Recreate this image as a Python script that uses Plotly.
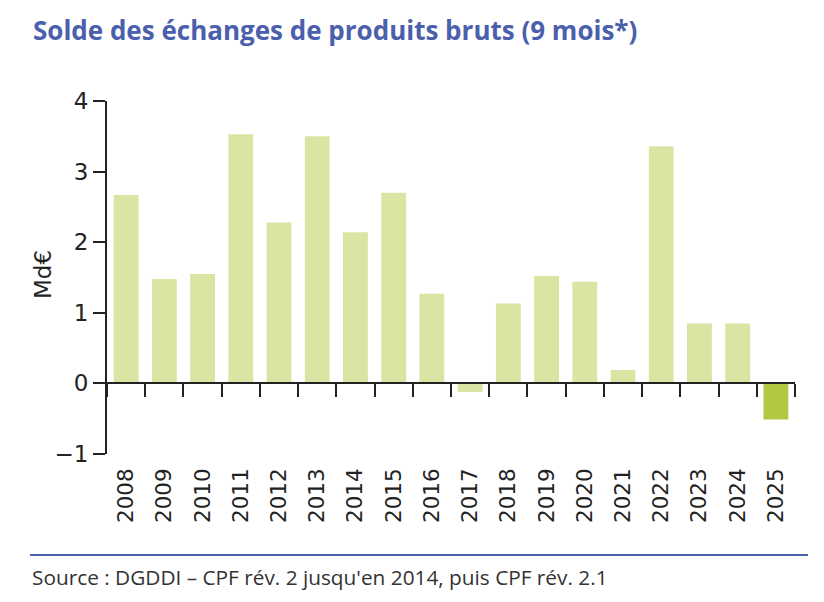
import plotly.graph_objects as go

years = ["2008", "2009", "2010", "2011", "2012", "2013", "2014", "2015", "2016",
         "2017", "2018", "2019", "2020", "2021", "2022", "2023", "2024", "2025"]
solde = [2.67, 1.48, 1.55, 3.53, 2.28, 3.50, 2.14, 2.70, 1.27,
         -0.12, 1.13, 1.52, 1.44, 0.19, 3.36, 0.85, 0.85, -0.51]
y_ticks = [-1, 0, 1, 2, 3, 4]
y_ticktext = ["\u22121", "0", "1", "2", "3", "4"]

LIGHT = "#dae4a3"
DARK = "#b2c842"
colors = [LIGHT] * (len(years) - 1) + [DARK]

title_text = "Solde des échanges de produits bruts (9 mois*)"
source_text = "Source : DGDDI \u2013 CPF rév. 2 jusqu'en 2014, puis CPF rév. 2.1"
y_title = "Md€"

AXC = "#222222"
BLUE = "#4a60ac"
AXFONT = "DejaVu Sans"

# page body has an 8px margin: figure is 816x594 placed at (8, 8)
OFF = 8
PL, PT, PW, PH = 107 - OFF, 101 - OFF, 688, 353
BOT = PT + PH  # bottom of plot area (figure px)


def px(x):
    return (x - OFF - PL) / PW


def py(y):
    return (BOT - (y - OFF)) / PH


fig = go.Figure()
fig.add_trace(go.Bar(x=years, y=solde, marker=dict(color=colors, line=dict(width=0)),
                     xaxis="x", yaxis="y", showlegend=False))
# invisible copy carrying the zero-line category axis (ticks at boundaries)
fig.add_trace(go.Bar(x=years, y=solde, marker=dict(color="rgba(0,0,0,0)", line=dict(width=0)),
                     xaxis="x2", yaxis="y", showlegend=False, hoverinfo="skip"))

fig.update_layout(
    width=816, height=594,
    margin=dict(l=PL, r=816 - PL - PW, t=PT, b=594 - PT - PH, pad=0),
    paper_bgcolor="white", plot_bgcolor="white",
    bargap=0.35,
    xaxis=dict(type="category", categoryorder="array", categoryarray=years,
               showline=False, showgrid=False, zeroline=False,
               ticks="", tickangle=-90, ticklabelstandoff=9,
               tickfont=dict(family=AXFONT, size=21.5, color=AXC)),
    xaxis2=dict(type="category", categoryorder="array", categoryarray=years,
                overlaying="x", anchor="free", position=0.2,
                showline=True, linecolor=AXC, linewidth=2,
                ticks="outside", tickson="boundaries", ticklen=13, tickwidth=2, tickcolor=AXC,
                showticklabels=False, showgrid=False, zeroline=False),
    yaxis=dict(range=[-1, 4], tickvals=y_ticks, ticktext=y_ticktext,
               showline=True, linecolor=AXC, linewidth=2,
               ticks="outside", ticklen=12, tickwidth=2, tickcolor=AXC,
               showgrid=False, zeroline=False,
               tickfont=dict(family=AXFONT, size=23, color=AXC)),
    shapes=[dict(type="line", xref="paper", yref="paper",
                 x0=px(30), x1=px(808), y0=py(555), y1=py(555),
                 line=dict(color=BLUE, width=2))],
    annotations=[
        dict(text="<b>" + title_text + "</b>", xref="paper", yref="paper",
             x=px(31), y=py(30), xanchor="left", yanchor="middle",
             showarrow=False, font=dict(family="Open Sans", size=26, color=BLUE)),
        dict(text=source_text, xref="paper", yref="paper",
             x=px(30), y=py(577), xanchor="left", yanchor="middle",
             showarrow=False, font=dict(family="Open Sans", size=20.8, color="#333333")),
        dict(text=y_title, xref="paper", yref="paper", textangle=-90,
             x=px(43), y=py(275), xanchor="center", yanchor="middle",
             showarrow=False, font=dict(family=AXFONT, size=23, color=AXC)),
    ],
)

fig.write_html("out.html")
